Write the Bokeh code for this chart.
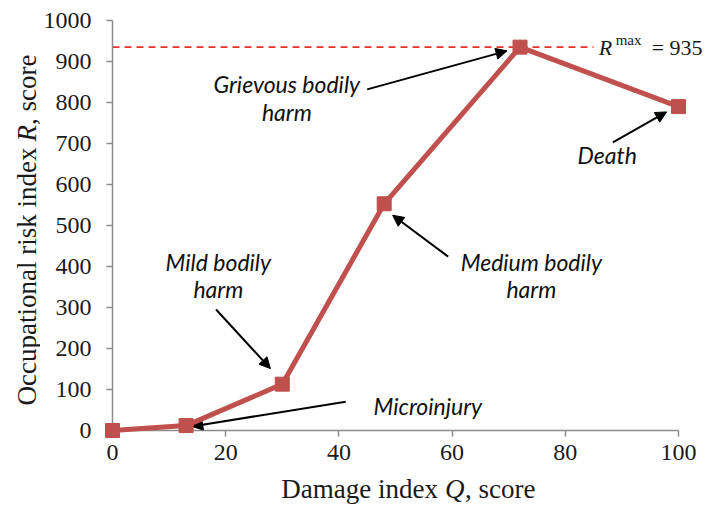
import math
from bokeh.plotting import figure
from bokeh.models import Range1d, Label, Arrow, NormalHead, ColumnDataSource, SingleIntervalTicker
from bokeh.layouts import row, column
from bokeh.embed import file_html
from bokeh.resources import INLINE

# ---- data ----
damage_q = [0, 13, 30, 48, 72, 100]
risk_r = [0, 12, 113, 553, 935, 790]
r_max = 935
r_max_line_x = [0, 85]

note_texts = ["Grievous bodily", "harm", "Death", "Medium bodily", "harm",
              "Mild bodily", "harm", "Microinjury"]
note_x = [30.8, 30.8, 87.4, 74.0, 74.0, 18.7, 18.7, 55.7]
note_y = [846, 777, 671, 410, 345, 410, 345, 60]

arrow_x0 = [45.0, 88.4, 59.3, 18.3, 41.2]
arrow_y0 = [832, 703, 424, 295, 70]
arrow_x1 = [69.7, 97.9, 49.5, 27.9, 14.0]
arrow_y1 = [926, 777, 525, 151, 10]

x_ticks_step = 20
y_ticks_step = 100

LINE_COLOR = "#C0504D"
SERIF = "Liberation Serif"
TXT = "#1a1a1a"

# ---- main plot ----
p = figure(width=665, height=474,
           x_range=Range1d(0, 104.77), y_range=Range1d(0, 1000),
           output_backend="svg", toolbar_location=None,
           min_border_left=72, min_border_right=0,
           min_border_top=20, min_border_bottom=44)
p.outline_line_color = None
p.grid.visible = False

p.xaxis.bounds = (0, 100)
p.yaxis.bounds = (0, 1000)
p.xaxis.ticker = SingleIntervalTicker(interval=x_ticks_step, num_minor_ticks=0)
p.yaxis.ticker = SingleIntervalTicker(interval=y_ticks_step, num_minor_ticks=0)
for ax in (p.xaxis[0], p.yaxis[0]):
    ax.axis_line_color = "#8c8c8c"
    ax.axis_line_width = 1.5
    ax.major_tick_line_color = "#8c8c8c"
    ax.major_tick_line_width = 1.5
    ax.major_tick_out = 6
    ax.major_tick_in = 0
    ax.minor_tick_line_color = None
    ax.major_label_text_font = SERIF
    ax.major_label_text_font_size = "24px"
    ax.major_label_text_color = TXT
p.yaxis.major_label_standoff = 15
p.xaxis.major_label_standoff = 8

# dashed max line
p.line(r_max_line_x, [r_max, r_max], line_color="#e8302a", line_width=1.6, line_dash="7 5")

# main series (overlay level so markers on the axes are not cut)
p.line(damage_q, risk_r, line_color=LINE_COLOR, line_width=5, level="overlay")
p.scatter(damage_q, risk_r, marker="square", size=14, color=LINE_COLOR, level="overlay")

# arrows
src = ColumnDataSource(dict(x0=arrow_x0, y0=arrow_y0, x1=arrow_x1, y1=arrow_y1))
p.add_layout(Arrow(x_start="x0", y_start="y0", x_end="x1", y_end="y1", source=src,
                   line_color="black", line_width=2,
                   end=NormalHead(size=11, fill_color="black", line_color="black")))

# notes
for t, x, y in zip(note_texts, note_x, note_y):
    p.add_layout(Label(x=x, y=y, text=t, text_align="center", text_baseline="middle",
                       text_font="Lato", text_font_style="italic",
                       text_font_size="23px", text_color="#111111"))

# R^max = 935
rx = 85.9
p.add_layout(Label(x=rx, y=r_max, text="R", text_font=SERIF, text_font_style="italic",
                   text_font_size="22px", text_baseline="middle", text_align="left", text_color=TXT))
p.add_layout(Label(x=rx, y=r_max, x_offset=17, y_offset=7, text="max", text_font=SERIF,
                   text_font_size="15px", text_baseline="middle", text_align="left", text_color=TXT))
p.add_layout(Label(x=rx, y=r_max, x_offset=53, text="= " + str(r_max), text_font=SERIF,
                   text_font_size="22px", text_baseline="middle", text_align="left", text_color=TXT))


def blank(w, h, xr=None):
    f = figure(width=w, height=h, x_range=xr if xr is not None else Range1d(0, w),
               y_range=Range1d(0, h),
               output_backend="svg", toolbar_location=None,
               x_axis_type=None, y_axis_type=None, min_border=0)
    f.outline_line_color = None
    f.grid.visible = False
    return f


TS = 27
# x title (frame shares the main x range)
xfig = blank(665, 30, xr=p.x_range)
xc = 50.6
for t, st, off, al in [("Damage index", "normal", 39, "right"),
                       ("Q", "italic", 46, "left"),
                       (", score", "normal", 66, "left")]:
    xfig.add_layout(Label(x=xc, y=16, x_offset=off, text=t, text_font=SERIF,
                          text_font_style=st, text_font_size=f"{TS}px",
                          text_baseline="middle", text_align=al, text_color=TXT))

# y title
yfig = blank(40, 504)
r_start = 363
for t, st, pos, al in [("Occupational risk index", "normal", r_start - 6, "right"),
                       ("R", "italic", r_start, "left"),
                       (", score", "normal", r_start + 0.611 * TS, "left")]:
    yfig.add_layout(Label(x=26, y=pos, text=t, angle=math.pi / 2,
                          text_font=SERIF, text_font_style=st,
                          text_font_size=f"{TS}px", text_baseline="middle", text_align=al,
                          text_color=TXT))

layout = row(yfig, column(p, xfig))
open("out.html", "w").write(file_html(layout, INLINE))
